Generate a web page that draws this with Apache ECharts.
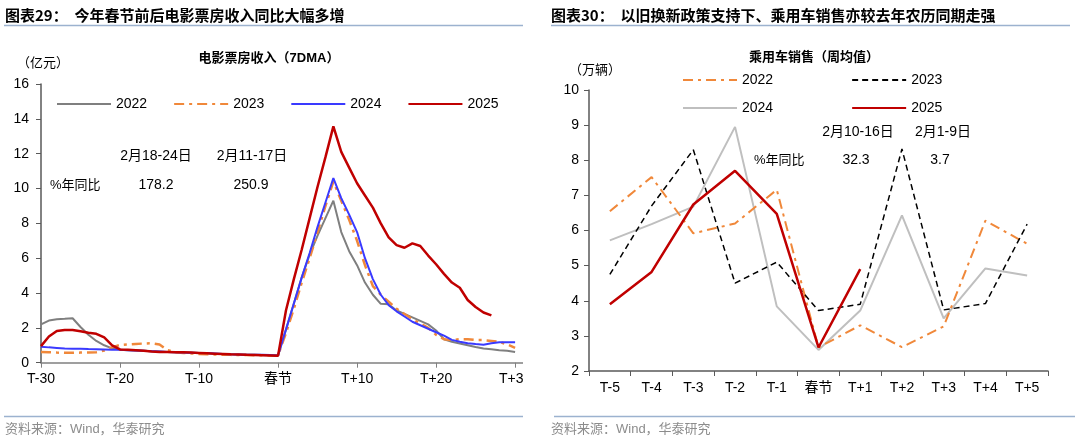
<!DOCTYPE html>
<html><head><meta charset="utf-8">
<script src="https://cdn.jsdelivr.net/npm/echarts@6/dist/echarts.min.js"></script>
<style>
html,body{margin:0;padding:0;background:#fff;width:1080px;height:441px;overflow:hidden}
#left{position:absolute;left:0;top:0;width:523px;height:441px;overflow:hidden}
#right{position:absolute;left:545px;top:0;width:535px;height:441px}
</style></head><body>
<div id="left"></div><div id="right"></div>
<script>
// ---------- Left chart: 电影票房收入（7DMA），亿元 ----------
const boxDayOffsets = [];
for (let d = -30; d <= 31; d++) boxDayOffsets.push(d);
const boxCategories = boxDayOffsets.map(d => d === 0 ? '春节' : (d < 0 ? 'T' + d : 'T+' + d));

const box2022 = [2.2,2.42,2.5,2.52,2.55,2.05,1.6,1.25,1.0,0.82,
  0.75,0.72,0.7,0.68,0.66,0.64,0.62,0.6,0.58,0.57,
  0.55,0.54,0.52,0.5,0.48,0.47,0.46,0.45,0.44,0.43,
  0.42,
  1.9,3.4,4.9,6.2,7.3,8.3,9.3,7.5,6.4,5.6,
  4.6,3.9,3.38,3.35,3.0,2.8,2.6,2.4,2.2,1.85,
  1.35,1.2,1.1,1.0,0.9,0.82,0.77,0.72,0.68,0.62,null];
const box2023 = [0.62,0.6,0.58,0.57,0.57,0.58,0.59,0.6,0.7,0.88,
  1.02,1.05,1.08,1.1,1.12,1.05,0.72,0.6,0.56,0.53,
  0.5,0.48,0.47,0.46,0.45,0.44,0.44,0.43,0.43,0.42,
  0.42,
  1.7,3.1,4.6,6.0,7.5,9.0,10.4,9.3,8.2,7.0,
  5.6,4.4,3.9,3.5,3.1,2.8,2.5,2.25,2.0,1.6,
  1.35,1.3,1.35,1.35,1.3,1.3,1.25,1.2,1.05,0.85,null];
const box2024 = [0.92,0.88,0.85,0.82,0.8,0.8,0.78,0.77,0.76,0.75,
  0.74,0.72,0.7,0.68,0.66,0.64,0.62,0.6,0.58,0.57,
  0.56,0.55,0.53,0.5,0.48,0.47,0.46,0.45,0.45,0.44,
  0.42,
  1.9,3.4,4.9,6.3,7.8,9.2,10.6,9.45,8.5,7.5,
  6.0,4.8,3.9,3.3,2.95,2.65,2.35,2.15,1.95,1.75,
  1.55,1.31,1.2,1.12,1.07,1.03,1.12,1.17,1.17,1.17,null];
const box2025 = [0.95,1.5,1.82,1.88,1.88,1.8,1.72,1.66,1.45,1.0,
  0.76,0.74,0.72,0.68,0.64,0.62,0.62,0.6,0.6,0.58,
  0.56,0.54,0.52,0.5,0.48,0.47,0.45,0.44,0.43,0.42,
  0.4,
  3.0,4.8,6.5,8.3,10.1,11.8,13.57,12.1,11.2,10.3,
  9.6,8.9,8.0,7.2,6.75,6.6,6.85,6.7,6.15,5.65,
  5.1,4.6,4.3,3.6,3.2,2.88,2.72,null,null,null,null];
const boxYTicks = {min: 0, max: 16, interval: 2};

// ---------- Right chart: 乘用车销售（周均值），万辆 ----------
const carCategories = ['T-5','T-4','T-3','T-2','T-1','春节','T+1','T+2','T+3','T+4','T+5'];
const car2022 = [6.55,7.52,5.92,6.2,7.16,2.67,3.3,2.68,3.27,6.28,5.62];
const car2023 = [4.75,6.7,8.3,4.5,5.1,3.72,3.9,8.32,3.74,3.92,6.18];
const car2024 = [5.72,6.18,6.68,8.95,3.84,2.6,3.72,6.43,3.5,4.92,4.72];
const car2025 = [3.9,4.82,6.74,7.7,6.47,2.67,4.9,null,null,null,null];
const carYTicks = {min: 2, max: 10, interval: 1};

const FONT = "'Liberation Sans', 'Noto Sans CJK SC', sans-serif";
const CJK = "'Noto Sans CJK SC', sans-serif";
const ORANGE = '#f0883a', RED = '#c00000';
const DASHDOT = [10, 5, 3, 5];

function lineSeries(name, data, color, width, type, z) {
  return {name, type: 'line', data, symbol: 'none', showSymbol: false, connectNulls: false,
    z: z, lineStyle: {color, width, type: type || 'solid'}, itemStyle: {color}};
}
function txt(text, x, y, opts) {
  opts = opts || {};
  return {type: 'text', silent: true, z: 100, style: {
    text, x, y, fill: opts.fill || '#000',
    font: opts.font || ('14px ' + FONT),
    textAlign: opts.align || 'left', textVerticalAlign: 'middle', verticalAlign: 'middle'}};
}
function hline(x1, x2, y, color, w) {
  return {type: 'line', silent: true, z: 100, shape: {x1, y1: y, x2, y2: y},
    style: {stroke: color, lineWidth: w}};
}

const axisLabelStyle = {color: '#000', fontSize: 14, fontFamily: FONT};
const legendBase = {itemWidth: 54, itemHeight: 12,
  itemStyle: {opacity: 0, borderWidth: 0},
  textStyle: {color: '#000', fontSize: 14, fontFamily: FONT}};

// ---- Left ----
const leftChart = echarts.init(document.getElementById('left'), null, {renderer: 'canvas'});
leftChart.setOption({
  animation: false,
  backgroundColor: '#fff',
  grid: {left: 41, top: 84, width: 482, height: 278.7, containLabel: false, outerBoundsMode: 'none'},
  xAxis: {type: 'category', data: boxCategories, boundaryGap: false,
    axisLine: {show: true, lineStyle: {color: '#808080', width: 1.5}},
    axisTick: {show: true, interval: 9, length: 5, inside: false, lineStyle: {color: '#808080'}},
    axisLabel: Object.assign({interval: 9, margin: 9, hideOverlap: false}, axisLabelStyle),
    splitLine: {show: false}},
  yAxis: {type: 'value', min: boxYTicks.min, max: boxYTicks.max, interval: boxYTicks.interval,
    axisLine: {show: true, lineStyle: {color: '#595959', width: 1.5}},
    axisTick: {show: true, length: 5, inside: false, lineStyle: {color: '#595959'}},
    axisLabel: Object.assign({margin: 12}, axisLabelStyle),
    splitLine: {show: false}},
  legend: Object.assign({left: 51, top: 92, itemGap: 26,
    data: ['2022', '2023', '2024', '2025']}, legendBase),
  series: [
    lineSeries('2022', box2022, '#7f7f7f', 2, 'solid', 2),
    lineSeries('2023', box2023, ORANGE, 2.5, DASHDOT, 3),
    lineSeries('2024', box2024, '#3a3aff', 2, 'solid', 4),
    lineSeries('2025', box2025, RED, 2.5, 'solid', 5)
  ],
  graphic: [
    txt('图表29：  今年春节前后电影票房收入同比大幅多增', 5, 15, {font: 'bold 15px ' + CJK}),
    hline(4, 523, 25.5, '#9cb2cf', 1.5),
    txt('电影票房收入（7DMA）', 269, 58, {font: 'bold 13px ' + FONT, align: 'center'}),
    txt('（亿元）', 17, 62, {font: '13px ' + CJK}),
    txt('2月18-24日', 156, 156, {align: 'center'}),
    txt('2月11-17日', 252, 156, {align: 'center'}),
    txt('%年同比', 50, 185, {font: '13px ' + FONT}),
    txt('178.2', 156, 185, {align: 'center'}),
    txt('250.9', 251, 185, {align: 'center'}),
    hline(4, 523, 416.5, '#9cb2cf', 1.5),
    txt('资料来源：Wind，华泰研究', 5, 429, {font: '13px ' + FONT, fill: '#8c8c8c'})
  ]
});

// ---- Right ----
const rightChart = echarts.init(document.getElementById('right'), null, {renderer: 'canvas'});
rightChart.setOption({
  animation: false,
  backgroundColor: '#fff',
  grid: {left: 44, top: 90, width: 459, height: 281, containLabel: false, outerBoundsMode: 'none'},
  xAxis: {type: 'category', data: carCategories, boundaryGap: true,
    axisLine: {show: true, lineStyle: {color: '#595959', width: 1.5}},
    axisTick: {show: true, length: 5, inside: false, alignWithLabel: false, lineStyle: {color: '#595959'}},
    axisLabel: Object.assign({interval: 0, margin: 10}, axisLabelStyle),
    splitLine: {show: false}},
  yAxis: {type: 'value', min: carYTicks.min, max: carYTicks.max, interval: carYTicks.interval,
    axisLine: {show: true, lineStyle: {color: '#595959', width: 1.5}},
    axisTick: {show: true, length: 5, inside: false, lineStyle: {color: '#595959'}},
    axisLabel: Object.assign({margin: 10}, axisLabelStyle),
    splitLine: {show: false}},
  legend: [
    Object.assign({left: 132, top: 68, itemGap: 78, data: ['2022', '2023']}, legendBase),
    Object.assign({left: 132, top: 96, itemGap: 78, data: ['2024', '2025']}, legendBase)
  ],
  series: [
    lineSeries('2022', car2022, ORANGE, 2, DASHDOT, 2),
    lineSeries('2023', car2023, '#000', 1.5, [6, 4], 3),
    lineSeries('2024', car2024, '#bfbfbf', 2, 'solid', 1),
    lineSeries('2025', car2025, RED, 2.5, 'solid', 5)
  ],
  graphic: [
    txt('图表30：  以旧换新政策支持下、乘用车销售亦较去年农历同期走强', 6, 15, {font: 'bold 15px ' + CJK}),
    hline(6, 525, 25.5, '#9cb2cf', 1.5),
    txt('乘用车销售（周均值）', 269, 56, {font: 'bold 13px ' + CJK, align: 'center'}),
    txt('（万辆）', 24, 69, {font: '13px ' + CJK}),
    txt('2月10-16日', 313, 132, {align: 'center'}),
    txt('2月1-9日', 398, 132, {align: 'center'}),
    txt('%年同比', 209, 160, {font: '13px ' + FONT}),
    txt('32.3', 311, 160, {align: 'center'}),
    txt('3.7', 395, 160, {align: 'center'}),
    hline(9, 530, 416.5, '#9cb2cf', 1.5),
    txt('资料来源：Wind，华泰研究', 6, 429, {font: '13px ' + FONT, fill: '#8c8c8c'})
  ]
});
</script>
</body></html>
